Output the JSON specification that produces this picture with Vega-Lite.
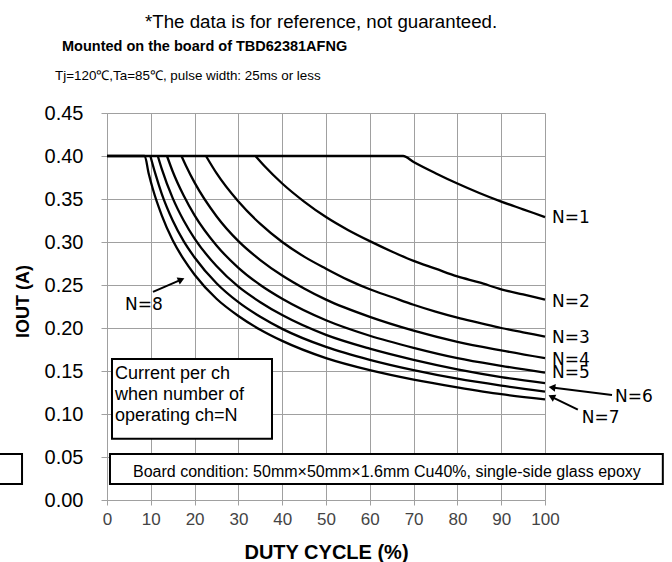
{
  "$schema": "https://vega.github.io/schema/vega-lite/v6.json",
  "width": 438,
  "height": 387,
  "autosize": {"type": "none"},
  "padding": {"left": 107, "top": 113, "right": 127, "bottom": 62},
  "background": "white",
  "config": {
    "view": {"stroke": null},
    "font": "Liberation Sans",
    "axis": {
      "gridColor": "#a0a0a0",
      "gridWidth": 1,
      "gridOpacity": 1,
      "domainColor": "#a0a0a0",
      "tickColor": "#a0a0a0",
      "labelFont": "Liberation Sans",
      "titleFont": "Liberation Sans"
    }
  },
  "datasets": {
    "curves": [
      {"n": "N=1", "d": 0, "i": 0.4}, {"n": "N=1", "d": 67.6, "i": 0.4}, {"n": "N=1", "d": 70, "i": 0.393}, {"n": "N=1", "d": 75, "i": 0.38}, {"n": "N=1", "d": 80, "i": 0.368}, {"n": "N=1", "d": 85, "i": 0.357}, {"n": "N=1", "d": 90, "i": 0.347}, {"n": "N=1", "d": 95, "i": 0.338}, {"n": "N=1", "d": 100, "i": 0.329},
      {"n": "N=2", "d": 33.9, "i": 0.4}, {"n": "N=2", "d": 36, "i": 0.388}, {"n": "N=2", "d": 40, "i": 0.368}, {"n": "N=2", "d": 45, "i": 0.347}, {"n": "N=2", "d": 50, "i": 0.329}, {"n": "N=2", "d": 55, "i": 0.314}, {"n": "N=2", "d": 60, "i": 0.301}, {"n": "N=2", "d": 65, "i": 0.289}, {"n": "N=2", "d": 70, "i": 0.278}, {"n": "N=2", "d": 75, "i": 0.269}, {"n": "N=2", "d": 80, "i": 0.26}, {"n": "N=2", "d": 85, "i": 0.253}, {"n": "N=2", "d": 90, "i": 0.245}, {"n": "N=2", "d": 95, "i": 0.239}, {"n": "N=2", "d": 100, "i": 0.233},
      {"n": "N=3", "d": 22.6, "i": 0.4}, {"n": "N=3", "d": 25, "i": 0.38}, {"n": "N=3", "d": 30, "i": 0.347}, {"n": "N=3", "d": 35, "i": 0.321}, {"n": "N=3", "d": 40, "i": 0.3}, {"n": "N=3", "d": 45, "i": 0.283}, {"n": "N=3", "d": 50, "i": 0.269}, {"n": "N=3", "d": 55, "i": 0.256}, {"n": "N=3", "d": 60, "i": 0.245}, {"n": "N=3", "d": 65, "i": 0.236}, {"n": "N=3", "d": 70, "i": 0.227}, {"n": "N=3", "d": 75, "i": 0.219}, {"n": "N=3", "d": 80, "i": 0.212}, {"n": "N=3", "d": 85, "i": 0.206}, {"n": "N=3", "d": 90, "i": 0.2}, {"n": "N=3", "d": 95, "i": 0.195}, {"n": "N=3", "d": 100, "i": 0.19},
      {"n": "N=4", "d": 17, "i": 0.4}, {"n": "N=4", "d": 18, "i": 0.389}, {"n": "N=4", "d": 20, "i": 0.369}, {"n": "N=4", "d": 25, "i": 0.33}, {"n": "N=4", "d": 30, "i": 0.301}, {"n": "N=4", "d": 35, "i": 0.279}, {"n": "N=4", "d": 40, "i": 0.261}, {"n": "N=4", "d": 45, "i": 0.246}, {"n": "N=4", "d": 50, "i": 0.233}, {"n": "N=4", "d": 60, "i": 0.213}, {"n": "N=4", "d": 70, "i": 0.197}, {"n": "N=4", "d": 80, "i": 0.184}, {"n": "N=4", "d": 90, "i": 0.174}, {"n": "N=4", "d": 100, "i": 0.165},
      {"n": "N=5", "d": 13.7, "i": 0.4}, {"n": "N=5", "d": 15, "i": 0.382}, {"n": "N=5", "d": 17.5, "i": 0.354}, {"n": "N=5", "d": 20, "i": 0.331}, {"n": "N=5", "d": 25, "i": 0.296}, {"n": "N=5", "d": 30, "i": 0.27}, {"n": "N=5", "d": 35, "i": 0.25}, {"n": "N=5", "d": 40, "i": 0.234}, {"n": "N=5", "d": 50, "i": 0.209}, {"n": "N=5", "d": 60, "i": 0.191}, {"n": "N=5", "d": 70, "i": 0.177}, {"n": "N=5", "d": 80, "i": 0.165}, {"n": "N=5", "d": 90, "i": 0.156}, {"n": "N=5", "d": 100, "i": 0.148},
      {"n": "N=6", "d": 11.6, "i": 0.4}, {"n": "N=6", "d": 12.5, "i": 0.385}, {"n": "N=6", "d": 15, "i": 0.351}, {"n": "N=6", "d": 17.5, "i": 0.325}, {"n": "N=6", "d": 20, "i": 0.304}, {"n": "N=6", "d": 25, "i": 0.272}, {"n": "N=6", "d": 30, "i": 0.248}, {"n": "N=6", "d": 35, "i": 0.23}, {"n": "N=6", "d": 40, "i": 0.215}, {"n": "N=6", "d": 50, "i": 0.192}, {"n": "N=6", "d": 60, "i": 0.176}, {"n": "N=6", "d": 70, "i": 0.163}, {"n": "N=6", "d": 80, "i": 0.152}, {"n": "N=6", "d": 90, "i": 0.143}, {"n": "N=6", "d": 100, "i": 0.136},
      {"n": "N=7", "d": 9.9, "i": 0.4}, {"n": "N=7", "d": 11, "i": 0.38}, {"n": "N=7", "d": 12.5, "i": 0.356}, {"n": "N=7", "d": 15, "i": 0.325}, {"n": "N=7", "d": 17.5, "i": 0.301}, {"n": "N=7", "d": 20, "i": 0.282}, {"n": "N=7", "d": 25, "i": 0.252}, {"n": "N=7", "d": 30, "i": 0.23}, {"n": "N=7", "d": 35, "i": 0.213}, {"n": "N=7", "d": 40, "i": 0.199}, {"n": "N=7", "d": 50, "i": 0.178}, {"n": "N=7", "d": 60, "i": 0.163}, {"n": "N=7", "d": 70, "i": 0.151}, {"n": "N=7", "d": 80, "i": 0.141}, {"n": "N=7", "d": 90, "i": 0.133}, {"n": "N=7", "d": 100, "i": 0.126},
      {"n": "N=8", "d": 0, "i": 0.4}, {"n": "N=8", "d": 8.6, "i": 0.4}, {"n": "N=8", "d": 9.5, "i": 0.38}, {"n": "N=8", "d": 10.5, "i": 0.361}, {"n": "N=8", "d": 12.5, "i": 0.331}, {"n": "N=8", "d": 15, "i": 0.302}, {"n": "N=8", "d": 17.5, "i": 0.28}, {"n": "N=8", "d": 20, "i": 0.262}, {"n": "N=8", "d": 25, "i": 0.234}, {"n": "N=8", "d": 30, "i": 0.214}, {"n": "N=8", "d": 35, "i": 0.198}, {"n": "N=8", "d": 40, "i": 0.185}, {"n": "N=8", "d": 50, "i": 0.165}, {"n": "N=8", "d": 60, "i": 0.151}, {"n": "N=8", "d": 70, "i": 0.14}, {"n": "N=8", "d": 80, "i": 0.131}, {"n": "N=8", "d": 90, "i": 0.123}, {"n": "N=8", "d": 100, "i": 0.117}
    ],
    "labels": [
      {"t": "N=1", "x": 101.6, "y": 0.328},
      {"t": "N=2", "x": 101.6, "y": 0.23},
      {"t": "N=3", "x": 101.6, "y": 0.188},
      {"t": "N=4", "x": 101.6, "y": 0.163},
      {"t": "N=5", "x": 101.6, "y": 0.148},
      {"t": "N=6", "x": 116.0, "y": 0.12},
      {"t": "N=7", "x": 108.4, "y": 0.095},
      {"t": "N=8", "x": 4.1, "y": 0.227}
    ],
    "arrows": [
      {"x": 115.3, "y": 0.122, "x2": 101.6, "y2": 0.1308},
      {"x": 107.5, "y": 0.105, "x2": 101.5, "y2": 0.12},
      {"x": 10.5, "y": 0.242, "x2": 16.96, "y2": 0.2563}
    ],
    "heads": [
      {"x": 101.6, "y": 0.1308, "ang": 277},
      {"x": 101.5, "y": 0.12, "ang": 296.6},
      {"x": 16.96, "y": 0.2563, "ang": 66.4}
    ],
    "boxes": [
      {"x": 1.14, "x2": 37.67, "y": 0.164, "y2": 0.0713},
      {"x": 0.68, "x2": 126.9, "y": 0.0535, "y2": 0.0186},
      {"x": -30, "x2": -19.4, "y": 0.0535, "y2": 0.0186}
    ]
  },
  "layer": [
    {
      "data": {"name": "curves"},
      "mark": {"type": "line", "color": "black", "strokeWidth": 2.3, "interpolate": "monotone"},
      "encoding": {
        "x": {
          "field": "d", "type": "quantitative",
          "scale": {"domain": [0, 100], "nice": false},
          "axis": {
            "values": [0, 10, 20, 30, 40, 50, 60, 70, 80, 90, 100],
            "tickSize": 5,
            "labelFontSize": 17,
            "labelColor": "#444",
            "labelPadding": 6,
            "labelFlush": false,
            "title": "DUTY CYCLE (%)",
            "titleFontSize": 20,
            "titleFontWeight": "bold",
            "titleColor": "black",
            "titleY": 58,
            "titleBaseline": "alphabetic"
          }
        },
        "y": {
          "field": "i", "type": "quantitative",
          "scale": {"domain": [0, 0.45], "nice": false, "zero": true},
          "axis": {
            "values": [0, 0.05, 0.1, 0.15, 0.2, 0.25, 0.3, 0.35, 0.4, 0.45],
            "format": ".2f",
            "tickSize": 6,
            "labelFontSize": 20,
            "labelColor": "black",
            "labelPadding": 18,
            "labelFlush": false,
            "title": "IOUT (A)",
            "titleFontSize": 18,
            "titleFontWeight": "bold",
            "titleColor": "black",
            "titleAngle": -90,
            "titleAlign": "center",
            "titleBaseline": "alphabetic",
            "titleX": -79,
            "titleY": 188
          }
        },
        "detail": {"field": "n", "type": "nominal"}
      }
    },
    {
      "data": {"name": "boxes"},
      "mark": {"type": "rect", "fill": "white", "stroke": "black", "strokeWidth": 2},
      "encoding": {
        "x": {"field": "x", "type": "quantitative"},
        "x2": {"field": "x2"},
        "y": {"field": "y", "type": "quantitative"},
        "y2": {"field": "y2"}
      }
    },
    {
      "data": {"values": [{"t": "Current per ch|when number of|operating ch=N", "x": 1.83, "y": 0.1407}]},
      "mark": {"type": "text", "align": "left", "baseline": "alphabetic", "fontSize": 18, "lineBreak": "|", "lineHeight": 21, "color": "black", "font": "Liberation Sans"},
      "encoding": {
        "x": {"field": "x", "type": "quantitative"},
        "y": {"field": "y", "type": "quantitative"},
        "text": {"field": "t"}
      }
    },
    {
      "data": {"values": [{"t": "Board condition: 50mm×50mm×1.6mm Cu40%, single-side glass epoxy", "x": 5.94, "y": 0.0271}]},
      "mark": {"type": "text", "align": "left", "baseline": "alphabetic", "fontSize": 16, "color": "black", "font": "Liberation Sans"},
      "encoding": {
        "x": {"field": "x", "type": "quantitative"},
        "y": {"field": "y", "type": "quantitative"},
        "text": {"field": "t"}
      }
    },
    {
      "data": {"name": "labels"},
      "mark": {"type": "text", "align": "left", "baseline": "middle", "fontSize": 17, "color": "black", "font": "DejaVu Sans"},
      "encoding": {
        "x": {"field": "x", "type": "quantitative"},
        "y": {"field": "y", "type": "quantitative"},
        "text": {"field": "t"}
      }
    },
    {
      "data": {"name": "arrows"},
      "mark": {"type": "rule", "color": "black", "strokeWidth": 2},
      "encoding": {
        "x": {"field": "x", "type": "quantitative"},
        "y": {"field": "y", "type": "quantitative"},
        "x2": {"field": "x2"},
        "y2": {"field": "y2"}
      }
    },
    {
      "data": {"name": "heads"},
      "mark": {"type": "point", "shape": "triangle-up", "filled": true, "color": "black", "size": 60, "opacity": 1},
      "encoding": {
        "x": {"field": "x", "type": "quantitative"},
        "y": {"field": "y", "type": "quantitative"},
        "angle": {"field": "ang", "type": "quantitative", "scale": null}
      }
    },
    {
      "data": {"values": [{"t": "*The data is for reference, not guaranteed.", "x": 8.68, "y": 0.5488}]},
      "mark": {"type": "text", "align": "left", "baseline": "alphabetic", "fontSize": 18.7, "color": "black", "font": "Liberation Sans"},
      "encoding": {
        "x": {"field": "x", "type": "quantitative"},
        "y": {"field": "y", "type": "quantitative"},
        "text": {"field": "t"}
      }
    },
    {
      "data": {"values": [{"t": "Mounted on the board of TBD62381AFNG", "x": -10.27, "y": 0.5224}]},
      "mark": {"type": "text", "align": "left", "baseline": "alphabetic", "fontSize": 14.5, "fontWeight": "bold", "color": "black", "font": "Liberation Sans"},
      "encoding": {
        "x": {"field": "x", "type": "quantitative"},
        "y": {"field": "y", "type": "quantitative"},
        "text": {"field": "t"}
      }
    },
    {
      "data": {"values": [{"t": "Tj=120℃,Ta=85℃, pulse width: 25ms or less", "x": -11.87, "y": 0.4884}]},
      "mark": {"type": "text", "align": "left", "baseline": "alphabetic", "fontSize": 13.4, "color": "black", "font": "Liberation Sans"},
      "encoding": {
        "x": {"field": "x", "type": "quantitative"},
        "y": {"field": "y", "type": "quantitative"},
        "text": {"field": "t"}
      }
    }
  ]
}
